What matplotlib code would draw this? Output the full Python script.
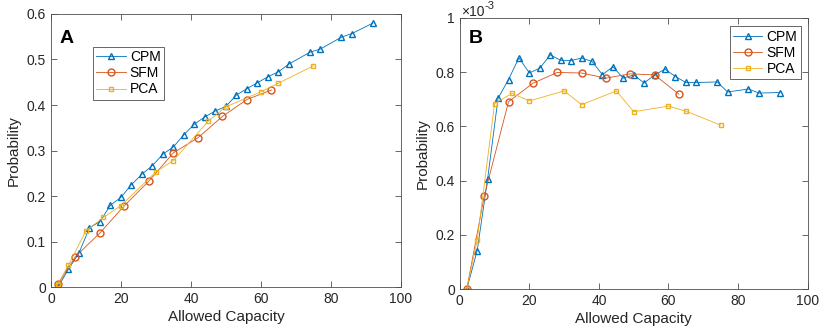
import numpy as np
import matplotlib.pyplot as plt
from matplotlib.ticker import FuncFormatter

plt.rcParams['font.family'] = ['Liberation Sans', 'DejaVu Sans']
plt.rcParams['font.size'] = 10

# panel A data
a_cpm_x = [2, 5, 8, 11, 14, 17, 20, 23, 26, 29, 32, 35, 38, 41, 44, 47, 50, 53, 56, 59, 62, 65, 68, 74, 77, 83, 86, 92]
a_cpm_y = [0.0, 0.039, 0.075, 0.130, 0.144, 0.180, 0.197, 0.225, 0.248, 0.267, 0.292, 0.308, 0.335, 0.358,
           0.374, 0.387, 0.397, 0.422, 0.436, 0.449, 0.462, 0.473, 0.490, 0.516, 0.523, 0.549, 0.557, 0.580]
a_sfm_x = [2, 7, 14, 21, 28, 35, 42, 49, 56, 63]
a_sfm_y = [0.006, 0.067, 0.119, 0.179, 0.233, 0.295, 0.328, 0.375, 0.412, 0.433]
a_pca_x = [2, 5, 10, 15, 20, 30, 35, 45, 50, 60, 65, 75]
a_pca_y = [0.007, 0.048, 0.124, 0.153, 0.179, 0.253, 0.278, 0.365, 0.396, 0.429, 0.448, 0.486]

# panel B data (units of 1e-3)
b_cpm_x = a_cpm_x
b_cpm_y = [0.0, 0.142, 0.407, 0.704, 0.773, 0.853, 0.797, 0.815, 0.864, 0.844, 0.843, 0.852, 0.840, 0.791,
           0.820, 0.778, 0.790, 0.760, 0.790, 0.811, 0.784, 0.762, 0.762, 0.764, 0.727, 0.738, 0.723, 0.725]
b_sfm_x = a_sfm_x
b_sfm_y = [0.0, 0.342, 0.691, 0.759, 0.799, 0.797, 0.778, 0.794, 0.790, 0.719]
b_pca_x = a_pca_x
b_pca_y = [0.0, 0.181, 0.684, 0.722, 0.694, 0.731, 0.680, 0.731, 0.654, 0.675, 0.656, 0.605]

blue = '#0072BD'
red = '#D95319'
yel = '#EDB120'
grey = '#4d4d4d'

fig = plt.figure(figsize=(8.3, 3.33), dpi=100)
ax1 = fig.add_axes([0.0614, 0.138, 0.4216, 0.82])
ax2 = fig.add_axes([0.554, 0.132, 0.419, 0.814])


def draw(ax, cx, cy, sx, sy, px, py):
    ax.plot(cx, cy, color=blue, lw=0.6, marker='^', ms=5, mfc='none', mec=blue, mew=1.0, label='CPM')
    ax.plot(sx, sy, color=red, lw=0.6, marker='o', ms=5, mfc='none', mec=red, mew=1.0, label='SFM')
    ax.plot(px, py, color=yel, lw=0.6, marker='s', ms=3.2, mfc='none', mec=yel, mew=1.0, label='PCA')
    ax.set_xlim(0, 100)
    ax.set_xticks([0, 20, 40, 60, 80, 100])
    ax.tick_params(direction='in', top=True, right=True, length=4, width=0.6, colors=grey,
                   labelcolor='#262626', labelsize=10)
    for s in ax.spines.values():
        s.set_color(grey)
        s.set_linewidth(0.6)
    ax.yaxis.set_major_formatter(FuncFormatter(lambda v, p: '%g' % round(v, 3)))
    ax.set_xlabel('Allowed Capacity', fontsize=11, color='#262626', labelpad=3)
    ax.set_ylabel('Probability', fontsize=11, color='#262626', labelpad=4)


draw(ax1, a_cpm_x, a_cpm_y, a_sfm_x, a_sfm_y, a_pca_x, a_pca_y)
ax1.set_ylim(0, 0.6)
ax1.set_yticks(np.arange(0, 0.61, 0.1))
ax1.text(0.025, 0.94, 'A', transform=ax1.transAxes, fontsize=14, fontweight='bold', va='top')
leg1 = ax1.legend(loc='upper left', bbox_to_anchor=(0.12, 0.88), fontsize=10, fancybox=False,
                  edgecolor=grey, framealpha=1, handlelength=2.1, handletextpad=0.3,
                  borderpad=0.25, labelspacing=0.15, borderaxespad=0)
leg1.get_frame().set_linewidth(0.6)

draw(ax2, b_cpm_x, b_cpm_y, b_sfm_x, b_sfm_y, b_pca_x, b_pca_y)
ax2.set_ylim(0, 1)
ax2.set_yticks(np.arange(0, 1.01, 0.2))
ax2.text(0.025, 0.955, 'B', transform=ax2.transAxes, fontsize=14, fontweight='bold', va='top')
# exponent label above the axes, MATLAB style
fig.text(461 / 830, 1 - 15.5 / 333, '\u00d710', fontsize=10, color='#262626', ha='left', va='baseline')
fig.text(484 / 830, 1 - 9 / 333, '-3', fontsize=8, color='#262626', ha='left', va='baseline')
leg2 = ax2.legend(loc='upper right', bbox_to_anchor=(0.98, 0.97), fontsize=10, fancybox=False,
                  edgecolor=grey, framealpha=1, handlelength=2.1, handletextpad=0.3,
                  borderpad=0.25, labelspacing=0.15, borderaxespad=0)
leg2.get_frame().set_linewidth(0.6)

fig.savefig('out.png', dpi=100)
